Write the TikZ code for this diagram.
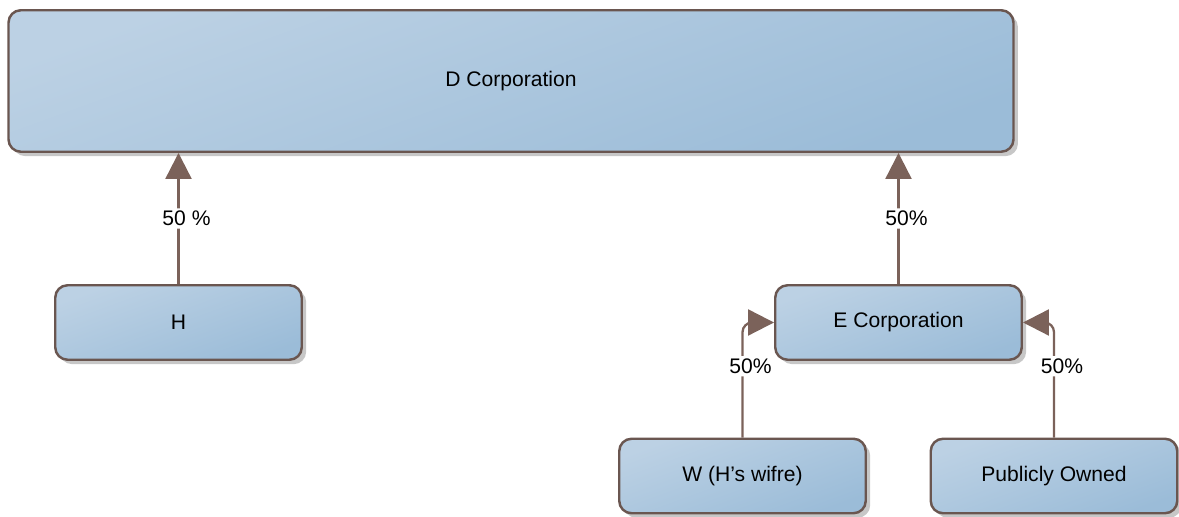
\documentclass[tikz,border=0pt]{standalone}
\usepackage{fontspec}
\setmainfont{Liberation Sans}
\usetikzlibrary{positioning,arrows.meta,shadows}
\definecolor{ownbrown}{HTML}{7B625A}
\definecolor{ownedge}{HTML}{6A5650}
\definecolor{boxtop}{HTML}{BCD1E4}
\definecolor{boxbot}{HTML}{9BBCD8}

\begin{document}
\begin{tikzpicture}[
  corp/.style={draw=ownedge,line width=1.4pt,rounded corners=7pt,top color=boxtop,bottom color=boxbot,shading angle=20,drop shadow={shadow xshift=2.5pt,shadow yshift=-2.5pt,fill=black!22,opacity=1},font=\fontsize{12}{14}\selectfont,align=center},
  share/.style={draw=ownbrown,line width=1.3pt,-{Triangle[length=5.2mm,width=5.2mm,fill=ownbrown]},rounded corners=5.5pt},
  pct/.style={fill=white,inner sep=1.5pt,xshift=0.16cm,font=\fontsize{12}{14}\selectfont}
]
\useasboundingbox (0,0) rectangle (23.58,10.34);
\node[corp,minimum width=20.1cm,minimum height=2.83cm] (d) at (10.22,8.72) {D Corporation};
\node[corp,minimum width=4.93cm,minimum height=1.49cm] (h) at (3.57,3.89) {H};
\node[corp,minimum width=4.93cm,minimum height=1.49cm] (e) at (17.97,3.89) {E Corporation};
\node[corp,minimum width=4.93cm,minimum height=1.49cm] (w) at (14.85,0.82) {W (H’s wifre)};
\node[corp,minimum width=4.93cm,minimum height=1.49cm] (pub) at (21.08,0.82) {Publicly Owned};
% holdings
\draw[share] (h.north) -- (h.north |- d.south) node[midway,pct] {50 \%};
\draw[share] (e.north) -- (e.north |- d.south) node[midway,pct] {50\%};
\draw[share] (w.north) |- (e.west) node[pos=0.31,pct] {50\%};
\draw[share] (pub.north) |- (e.east) node[pos=0.31,pct] {50\%};
\end{tikzpicture}
\end{document}
